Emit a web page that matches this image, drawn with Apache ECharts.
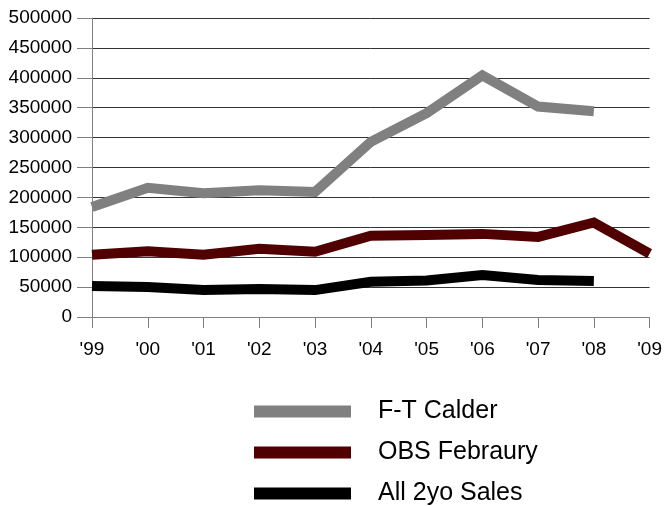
<!DOCTYPE html>
<html>
<head>
<meta charset="utf-8">
<script src="https://cdn.jsdelivr.net/npm/echarts@6/dist/echarts.min.js"></script>
<style>
  html, body { margin: 0; padding: 0; background: #fff; }
  #main { width: 665px; height: 506px; }
</style>
</head>
<body>
<div id="main"></div>
<script>
// categories (years)
var years = ["'99", "'00", "'01", "'02", "'03", "'04", "'05", "'06", "'07", "'08", "'09"];

// series values
var calder = [184000, 216000, 207000, 212000, 209000, 293000, 341000, 404000, 352000, 344000, null];
var obsFeb = [104000, 110000, 104000, 114000, 109000, 136000, 137000, 139000, 134000, 158000, 106000];
var all2yo = [52000, 50000, 45000, 47000, 45000, 59000, 61000, 70000, 62000, 60000, null];

var names = ['F-T Calder', 'OBS Febraury', 'All 2yo Sales'];
var colors = ['#808080', '#500000', '#000000'];

var myChart = echarts.init(document.getElementById('main'));

function lineSeries(name, data, color) {
	return {
		name : name,
		type : 'line',
		data : data,
		symbol : 'none',
		connectNulls : false,
		itemStyle : { color : color },
		lineStyle : { color : color, width : 10, cap : 'butt', join : 'miter' }
	};
}

myChart.setOption({
	animation : false,
	textStyle : { fontFamily : 'Liberation Sans, Arial, sans-serif' },
	grid : { left : 92, right : 14, top : 18, bottom : 189 },
	legend : {
		orient : 'vertical',
		left : 249,
		top : 394,
		height : 140,
		icon : 'rect',
		itemWidth : 97,
		itemHeight : 12,
		itemGap : 16,
		data : names,
		textStyle : { fontSize : 25, color : '#000', padding : [0, 0, 0, 22] }
	},
	xAxis : {
		type : 'category',
		data : years,
		boundaryGap : false,
		axisLine : { lineStyle : { color : '#808080', width : 1 } },
		axisTick : { length : 11, lineStyle : { color : '#808080' } },
		axisLabel : { color : '#000', fontSize : 19, margin : 23 }
	},
	yAxis : {
		type : 'value',
		min : 0,
		max : 500000,
		interval : 50000,
		axisLine : { show : true, lineStyle : { color : '#808080', width : 1 } },
		axisTick : { show : true, length : 15, lineStyle : { color : '#808080' } },
		axisLabel : {
			color : '#000',
			fontSize : 19,
			margin : 20,
			formatter : function(v) { return String(v); }
		},
		splitLine : { lineStyle : { color : '#333', width : 1 } }
	},
	series : [
		lineSeries(names[0], calder, colors[0]),
		lineSeries(names[1], obsFeb, colors[1]),
		lineSeries(names[2], all2yo, colors[2])
	]
});
</script>
</body>
</html>
